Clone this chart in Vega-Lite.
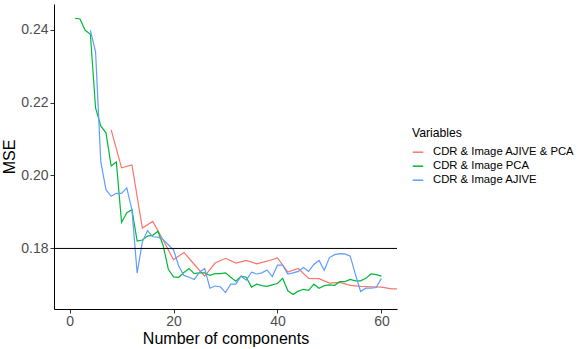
{
  "$schema": "https://vega.github.io/schema/vega-lite/v6.json",
  "width": 343,
  "height": 305,
  "autosize": {"type": "none"},
  "padding": {"left": 54, "top": 4, "right": 184, "bottom": 40},
  "background": "white",
  "config": {"view": {"stroke": null}, "font": "Liberation Sans"},
  "datasets": {
    "mse": [
      {"components": 8, "MSE": 0.2125, "Variables": "CDR & Image AJIVE & PCA"},
      {"components": 10, "MSE": 0.2021, "Variables": "CDR & Image AJIVE & PCA"},
      {"components": 12, "MSE": 0.2029, "Variables": "CDR & Image AJIVE & PCA"},
      {"components": 14, "MSE": 0.1856, "Variables": "CDR & Image AJIVE & PCA"},
      {"components": 16, "MSE": 0.1874, "Variables": "CDR & Image AJIVE & PCA"},
      {"components": 18, "MSE": 0.1823, "Variables": "CDR & Image AJIVE & PCA"},
      {"components": 20, "MSE": 0.1769, "Variables": "CDR & Image AJIVE & PCA"},
      {"components": 22, "MSE": 0.1789, "Variables": "CDR & Image AJIVE & PCA"},
      {"components": 24, "MSE": 0.1756, "Variables": "CDR & Image AJIVE & PCA"},
      {"components": 26, "MSE": 0.1724, "Variables": "CDR & Image AJIVE & PCA"},
      {"components": 28, "MSE": 0.1760, "Variables": "CDR & Image AJIVE & PCA"},
      {"components": 30, "MSE": 0.1773, "Variables": "CDR & Image AJIVE & PCA"},
      {"components": 32, "MSE": 0.1760, "Variables": "CDR & Image AJIVE & PCA"},
      {"components": 34, "MSE": 0.1767, "Variables": "CDR & Image AJIVE & PCA"},
      {"components": 36, "MSE": 0.1758, "Variables": "CDR & Image AJIVE & PCA"},
      {"components": 38, "MSE": 0.1765, "Variables": "CDR & Image AJIVE & PCA"},
      {"components": 40, "MSE": 0.1774, "Variables": "CDR & Image AJIVE & PCA"},
      {"components": 42, "MSE": 0.1735, "Variables": "CDR & Image AJIVE & PCA"},
      {"components": 44, "MSE": 0.1745, "Variables": "CDR & Image AJIVE & PCA"},
      {"components": 46, "MSE": 0.1718, "Variables": "CDR & Image AJIVE & PCA"},
      {"components": 48, "MSE": 0.1717, "Variables": "CDR & Image AJIVE & PCA"},
      {"components": 50, "MSE": 0.1705, "Variables": "CDR & Image AJIVE & PCA"},
      {"components": 52, "MSE": 0.1707, "Variables": "CDR & Image AJIVE & PCA"},
      {"components": 54, "MSE": 0.1699, "Variables": "CDR & Image AJIVE & PCA"},
      {"components": 56, "MSE": 0.1696, "Variables": "CDR & Image AJIVE & PCA"},
      {"components": 58, "MSE": 0.1695, "Variables": "CDR & Image AJIVE & PCA"},
      {"components": 60, "MSE": 0.1694, "Variables": "CDR & Image AJIVE & PCA"},
      {"components": 62, "MSE": 0.1689, "Variables": "CDR & Image AJIVE & PCA"},
      {"components": 64, "MSE": 0.1689, "Variables": "CDR & Image AJIVE & PCA"},

      {"components": 1, "MSE": 0.2431, "Variables": "CDR & Image PCA"},
      {"components": 2, "MSE": 0.2429, "Variables": "CDR & Image PCA"},
      {"components": 3, "MSE": 0.2398, "Variables": "CDR & Image PCA"},
      {"components": 4, "MSE": 0.2387, "Variables": "CDR & Image PCA"},
      {"components": 5, "MSE": 0.2185, "Variables": "CDR & Image PCA"},
      {"components": 6, "MSE": 0.2136, "Variables": "CDR & Image PCA"},
      {"components": 7, "MSE": 0.2117, "Variables": "CDR & Image PCA"},
      {"components": 8, "MSE": 0.2026, "Variables": "CDR & Image PCA"},
      {"components": 9, "MSE": 0.2037, "Variables": "CDR & Image PCA"},
      {"components": 10, "MSE": 0.1871, "Variables": "CDR & Image PCA"},
      {"components": 11, "MSE": 0.1898, "Variables": "CDR & Image PCA"},
      {"components": 12, "MSE": 0.1906, "Variables": "CDR & Image PCA"},
      {"components": 13, "MSE": 0.1820, "Variables": "CDR & Image PCA"},
      {"components": 14, "MSE": 0.1823, "Variables": "CDR & Image PCA"},
      {"components": 15, "MSE": 0.1834, "Variables": "CDR & Image PCA"},
      {"components": 16, "MSE": 0.1836, "Variables": "CDR & Image PCA"},
      {"components": 17, "MSE": 0.1847, "Variables": "CDR & Image PCA"},
      {"components": 18, "MSE": 0.1808, "Variables": "CDR & Image PCA"},
      {"components": 19, "MSE": 0.1743, "Variables": "CDR & Image PCA"},
      {"components": 20, "MSE": 0.1722, "Variables": "CDR & Image PCA"},
      {"components": 21, "MSE": 0.1721, "Variables": "CDR & Image PCA"},
      {"components": 22, "MSE": 0.1734, "Variables": "CDR & Image PCA"},
      {"components": 23, "MSE": 0.1745, "Variables": "CDR & Image PCA"},
      {"components": 24, "MSE": 0.1731, "Variables": "CDR & Image PCA"},
      {"components": 25, "MSE": 0.1733, "Variables": "CDR & Image PCA"},
      {"components": 26, "MSE": 0.1733, "Variables": "CDR & Image PCA"},
      {"components": 27, "MSE": 0.1726, "Variables": "CDR & Image PCA"},
      {"components": 28, "MSE": 0.1731, "Variables": "CDR & Image PCA"},
      {"components": 29, "MSE": 0.1731, "Variables": "CDR & Image PCA"},
      {"components": 30, "MSE": 0.1733, "Variables": "CDR & Image PCA"},
      {"components": 31, "MSE": 0.1721, "Variables": "CDR & Image PCA"},
      {"components": 32, "MSE": 0.1710, "Variables": "CDR & Image PCA"},
      {"components": 33, "MSE": 0.1724, "Variables": "CDR & Image PCA"},
      {"components": 34, "MSE": 0.1721, "Variables": "CDR & Image PCA"},
      {"components": 35, "MSE": 0.1694, "Variables": "CDR & Image PCA"},
      {"components": 36, "MSE": 0.1702, "Variables": "CDR & Image PCA"},
      {"components": 37, "MSE": 0.1698, "Variables": "CDR & Image PCA"},
      {"components": 38, "MSE": 0.1696, "Variables": "CDR & Image PCA"},
      {"components": 39, "MSE": 0.1700, "Variables": "CDR & Image PCA"},
      {"components": 40, "MSE": 0.1704, "Variables": "CDR & Image PCA"},
      {"components": 41, "MSE": 0.1718, "Variables": "CDR & Image PCA"},
      {"components": 42, "MSE": 0.1684, "Variables": "CDR & Image PCA"},
      {"components": 43, "MSE": 0.1674, "Variables": "CDR & Image PCA"},
      {"components": 44, "MSE": 0.1683, "Variables": "CDR & Image PCA"},
      {"components": 45, "MSE": 0.1688, "Variables": "CDR & Image PCA"},
      {"components": 46, "MSE": 0.1685, "Variables": "CDR & Image PCA"},
      {"components": 47, "MSE": 0.1702, "Variables": "CDR & Image PCA"},
      {"components": 48, "MSE": 0.1691, "Variables": "CDR & Image PCA"},
      {"components": 49, "MSE": 0.1698, "Variables": "CDR & Image PCA"},
      {"components": 50, "MSE": 0.1700, "Variables": "CDR & Image PCA"},
      {"components": 51, "MSE": 0.1699, "Variables": "CDR & Image PCA"},
      {"components": 52, "MSE": 0.1709, "Variables": "CDR & Image PCA"},
      {"components": 53, "MSE": 0.1709, "Variables": "CDR & Image PCA"},
      {"components": 54, "MSE": 0.1715, "Variables": "CDR & Image PCA"},
      {"components": 55, "MSE": 0.1711, "Variables": "CDR & Image PCA"},
      {"components": 56, "MSE": 0.1711, "Variables": "CDR & Image PCA"},
      {"components": 57, "MSE": 0.1718, "Variables": "CDR & Image PCA"},
      {"components": 58, "MSE": 0.1730, "Variables": "CDR & Image PCA"},
      {"components": 59, "MSE": 0.1728, "Variables": "CDR & Image PCA"},
      {"components": 60, "MSE": 0.1724, "Variables": "CDR & Image PCA"},

      {"components": 4, "MSE": 0.2398, "Variables": "CDR & Image AJIVE"},
      {"components": 5, "MSE": 0.2339, "Variables": "CDR & Image AJIVE"},
      {"components": 6, "MSE": 0.2038, "Variables": "CDR & Image AJIVE"},
      {"components": 7, "MSE": 0.1961, "Variables": "CDR & Image AJIVE"},
      {"components": 8, "MSE": 0.1943, "Variables": "CDR & Image AJIVE"},
      {"components": 9, "MSE": 0.1951, "Variables": "CDR & Image AJIVE"},
      {"components": 10, "MSE": 0.1951, "Variables": "CDR & Image AJIVE"},
      {"components": 11, "MSE": 0.1966, "Variables": "CDR & Image AJIVE"},
      {"components": 12, "MSE": 0.1906, "Variables": "CDR & Image AJIVE"},
      {"components": 13, "MSE": 0.1732, "Variables": "CDR & Image AJIVE"},
      {"components": 14, "MSE": 0.1818, "Variables": "CDR & Image AJIVE"},
      {"components": 15, "MSE": 0.1849, "Variables": "CDR & Image AJIVE"},
      {"components": 16, "MSE": 0.1832, "Variables": "CDR & Image AJIVE"},
      {"components": 17, "MSE": 0.1831, "Variables": "CDR & Image AJIVE"},
      {"components": 18, "MSE": 0.1824, "Variables": "CDR & Image AJIVE"},
      {"components": 19, "MSE": 0.1810, "Variables": "CDR & Image AJIVE"},
      {"components": 20, "MSE": 0.1796, "Variables": "CDR & Image AJIVE"},
      {"components": 21, "MSE": 0.1752, "Variables": "CDR & Image AJIVE"},
      {"components": 22, "MSE": 0.1726, "Variables": "CDR & Image AJIVE"},
      {"components": 23, "MSE": 0.1721, "Variables": "CDR & Image AJIVE"},
      {"components": 24, "MSE": 0.1715, "Variables": "CDR & Image AJIVE"},
      {"components": 25, "MSE": 0.1735, "Variables": "CDR & Image AJIVE"},
      {"components": 26, "MSE": 0.1745, "Variables": "CDR & Image AJIVE"},
      {"components": 27, "MSE": 0.1691, "Variables": "CDR & Image AJIVE"},
      {"components": 28, "MSE": 0.1697, "Variables": "CDR & Image AJIVE"},
      {"components": 29, "MSE": 0.1695, "Variables": "CDR & Image AJIVE"},
      {"components": 30, "MSE": 0.1679, "Variables": "CDR & Image AJIVE"},
      {"components": 31, "MSE": 0.1702, "Variables": "CDR & Image AJIVE"},
      {"components": 32, "MSE": 0.1702, "Variables": "CDR & Image AJIVE"},
      {"components": 33, "MSE": 0.1724, "Variables": "CDR & Image AJIVE"},
      {"components": 34, "MSE": 0.1713, "Variables": "CDR & Image AJIVE"},
      {"components": 35, "MSE": 0.1735, "Variables": "CDR & Image AJIVE"},
      {"components": 36, "MSE": 0.1730, "Variables": "CDR & Image AJIVE"},
      {"components": 37, "MSE": 0.1733, "Variables": "CDR & Image AJIVE"},
      {"components": 38, "MSE": 0.1741, "Variables": "CDR & Image AJIVE"},
      {"components": 39, "MSE": 0.1723, "Variables": "CDR & Image AJIVE"},
      {"components": 40, "MSE": 0.1754, "Variables": "CDR & Image AJIVE"},
      {"components": 41, "MSE": 0.1754, "Variables": "CDR & Image AJIVE"},
      {"components": 42, "MSE": 0.1730, "Variables": "CDR & Image AJIVE"},
      {"components": 43, "MSE": 0.1733, "Variables": "CDR & Image AJIVE"},
      {"components": 44, "MSE": 0.1737, "Variables": "CDR & Image AJIVE"},
      {"components": 45, "MSE": 0.1748, "Variables": "CDR & Image AJIVE"},
      {"components": 46, "MSE": 0.1737, "Variables": "CDR & Image AJIVE"},
      {"components": 47, "MSE": 0.1756, "Variables": "CDR & Image AJIVE"},
      {"components": 48, "MSE": 0.1767, "Variables": "CDR & Image AJIVE"},
      {"components": 49, "MSE": 0.1740, "Variables": "CDR & Image AJIVE"},
      {"components": 50, "MSE": 0.1775, "Variables": "CDR & Image AJIVE"},
      {"components": 51, "MSE": 0.1783, "Variables": "CDR & Image AJIVE"},
      {"components": 52, "MSE": 0.1786, "Variables": "CDR & Image AJIVE"},
      {"components": 53, "MSE": 0.1785, "Variables": "CDR & Image AJIVE"},
      {"components": 54, "MSE": 0.1779, "Variables": "CDR & Image AJIVE"},
      {"components": 55, "MSE": 0.1729, "Variables": "CDR & Image AJIVE"},
      {"components": 56, "MSE": 0.1682, "Variables": "CDR & Image AJIVE"},
      {"components": 57, "MSE": 0.1691, "Variables": "CDR & Image AJIVE"},
      {"components": 58, "MSE": 0.1691, "Variables": "CDR & Image AJIVE"},
      {"components": 59, "MSE": 0.1693, "Variables": "CDR & Image AJIVE"},
      {"components": 60, "MSE": 0.1718, "Variables": "CDR & Image AJIVE"}
    ],
    "threshold": [{"MSE": 0.18}]
  },
  "layer": [
    {
      "data": {"name": "mse"},
      "mark": {"type": "line", "strokeWidth": 1.2, "clip": true},
      "encoding": {
        "x": {
          "field": "components", "type": "quantitative",
          "scale": {"domain": [-3, 63], "nice": false, "zero": false},
          "axis": {
            "values": [0, 20, 40, 60], "grid": false, "title": "Number of components",
            "domainColor": "#000000", "domainWidth": 1, "tickColor": "#333333", "tickSize": 4,
            "labelColor": "#4D4D4D", "labelFontSize": 14, "labelPadding": 1,
            "titleFontSize": 16, "titleFontWeight": "normal", "titleColor": "#000000", "titlePadding": 2
          }
        },
        "y": {
          "field": "MSE", "type": "quantitative",
          "scale": {"domain": [0.1634, 0.247], "nice": false, "zero": false},
          "axis": {
            "values": [0.18, 0.2, 0.22, 0.24], "format": ".2f", "grid": false, "title": "MSE",
            "domainColor": "#000000", "domainWidth": 1, "tickColor": "#333333", "tickSize": 4,
            "labelColor": "#4D4D4D", "labelFontSize": 14, "labelPadding": 2,
            "titleFontSize": 16, "titleFontWeight": "normal", "titleColor": "#000000", "titlePadding": 3
          }
        },
        "color": {
          "field": "Variables", "type": "nominal",
          "scale": {
            "domain": ["CDR & Image AJIVE & PCA", "CDR & Image PCA", "CDR & Image AJIVE"],
            "range": ["#F8766D", "#00BA38", "#619CFF"]
          },
          "legend": {
            "title": "Variables", "orient": "none", "legendX": 358, "legendY": 123,
            "symbolType": "stroke", "symbolSize": 110, "symbolStrokeWidth": 1.5,
            "labelFontSize": 11.3, "labelColor": "#000000", "labelOffset": 9,
            "titleFontSize": 12.2, "titleFontWeight": "normal", "titleColor": "#000000", "titlePadding": 7,
            "rowPadding": 2
          }
        }
      }
    },
    {
      "data": {"name": "threshold"},
      "mark": {"type": "rule", "color": "#000000", "strokeWidth": 1},
      "encoding": {"y": {"field": "MSE", "type": "quantitative"}}
    }
  ]
}
